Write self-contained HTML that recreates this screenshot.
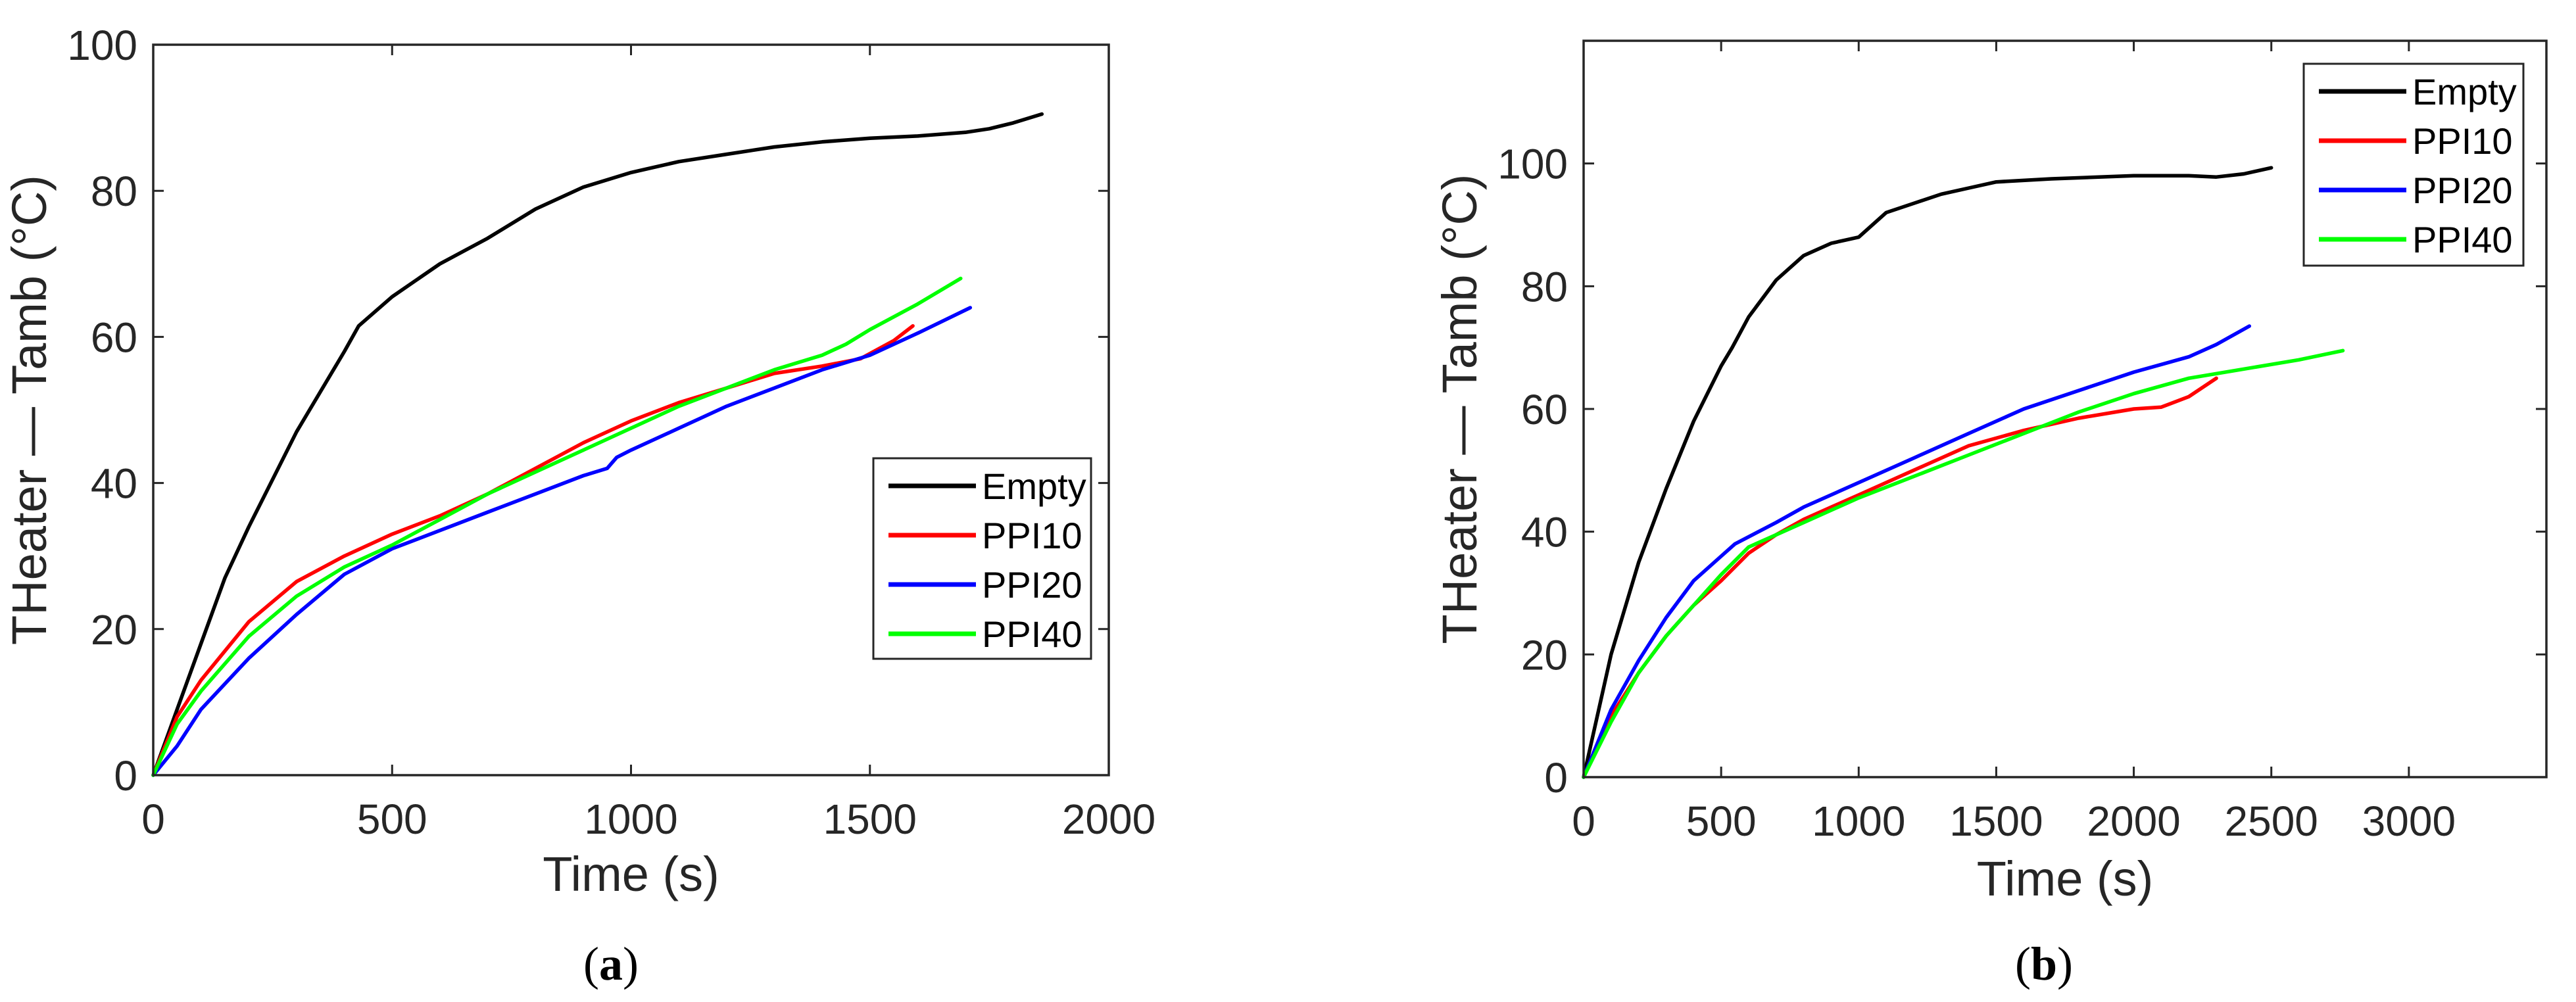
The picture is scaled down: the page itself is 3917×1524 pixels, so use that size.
<!DOCTYPE html>
<html><head><meta charset="utf-8"><style>
html,body{margin:0;padding:0;background:#fff;}
svg{display:block;font-family:"Liberation Sans",Arial,sans-serif;}
</style></head><body>
<svg id="fig" width="3917" height="1524" viewBox="0 0 3917 1524" xmlns="http://www.w3.org/2000/svg">
<rect x="0" y="0" width="3917" height="1524" fill="#fff"/>
<g id="chartA"></g>
<g id="chartB"></g>
<text x="929" y="1490" text-anchor="middle" font-family="Liberation Serif, serif" font-size="72" fill="#000">(<tspan font-weight="bold">a</tspan>)</text>
<text x="3108" y="1490" text-anchor="middle" font-family="Liberation Serif, serif" font-size="72" fill="#000">(<tspan font-weight="bold">b</tspan>)</text>
</svg>
<script>
const seriesNames = ["Empty","PPI10","PPI20","PPI40"];
const seriesColors = ["#000000","#ff0000","#0000ff","#00ff00"];
const yTicksA = [0,20,40,60,80,100];
const xTicksA = [0,500,1000,1500,2000];
const yTicksB = [0,20,40,60,80,100];
const xTicksB = [0,500,1000,1500,2000,2500,3000];
const emptyA = [[0,0],[50,9],[100,18],[150,27],[200,34],[300,47],[400,58],[430,61.5],[500,65.5],[600,70],[700,73.5],[800,77.5],[900,80.5],[1000,82.5],[1100,84],[1200,85],[1300,86],[1400,86.7],[1500,87.2],[1600,87.5],[1700,88],[1750,88.5],[1800,89.3],[1860,90.5]];
const ppi10A = [[0,0],[50,8],[100,13],[200,21],[300,26.5],[400,30],[500,33],[600,35.5],[700,38.5],[800,42],[900,45.5],[1000,48.5],[1100,51],[1200,53],[1300,55],[1400,56],[1480,57],[1550,59.5],[1590,61.5]];
const ppi20A = [[0,0],[50,4],[100,9],[200,16],[300,22],[400,27.5],[500,31],[600,33.5],[700,36],[800,38.5],[900,41],[950,42],[970,43.5],[1000,44.5],[1100,47.5],[1200,50.5],[1300,53],[1400,55.5],[1500,57.5],[1600,60.5],[1710,64]];
const ppi40A = [[0,0],[50,7],[100,11.5],[200,19],[300,24.5],[400,28.5],[500,31.5],[600,35],[700,38.5],[800,41.5],[900,44.5],[1000,47.5],[1100,50.5],[1200,53],[1300,55.5],[1400,57.5],[1450,59],[1500,61],[1600,64.5],[1690,68]];
const emptyB = [[0,0],[100,20],[200,35],[300,47],[400,58],[500,67],[540,70],[600,75],[700,81],[800,85],[900,87],[950,87.5],[1000,88],[1100,92],[1200,93.5],[1300,95],[1400,96],[1500,97],[1700,97.5],[2000,98],[2200,98],[2300,97.8],[2400,98.3],[2500,99.3]];
const ppi10B = [[0,0],[100,10],[200,17],[300,23],[400,28],[500,32],[600,36.5],[700,39.5],[800,42],[900,44],[1000,46],[1200,50],[1400,54],[1600,56.5],[1800,58.5],[2000,60],[2100,60.3],[2200,62],[2300,65]];
const ppi20B = [[0,0],[100,11],[200,19],[300,26],[400,32],[500,36],[550,38],[700,41.5],[800,44],[1000,48],[1200,52],[1400,56],[1600,60],[1800,63],[2000,66],[2200,68.5],[2300,70.5],[2420,73.5]];
const ppi40B = [[0,0],[100,9],[200,17],[300,23],[400,28],[500,33],[600,37.5],[800,41.5],[1000,45.5],[1200,49],[1400,52.5],[1600,56],[1800,59.5],[2000,62.5],[2200,65],[2400,66.5],[2600,68],[2760,69.5]];

const NS="http://www.w3.org/2000/svg";
function mk(parent,tag,attrs,txt){const e=document.createElementNS(NS,tag);for(const k in attrs)e.setAttribute(k,attrs[k]);if(txt!==undefined)e.textContent=txt;parent.appendChild(e);return e;}

function drawChart(g,cfg,data,xTicks,yTicks,tag){
  const sx=v=>cfg.x0+(v-cfg.xmin)/(cfg.xmax-cfg.xmin)*(cfg.x1-cfg.x0);
  const sy=v=>cfg.y0-(v-cfg.ymin)/(cfg.ymax-cfg.ymin)*(cfg.y0-cfg.y1);
  // ticks
  xTicks.forEach(t=>{
    const x=sx(t);
    const tk=mk(g,"path",{d:`M${x},${cfg.y0}V${cfg.y0-16}M${x},${cfg.y1}V${cfg.y1+16}`,stroke:"#262626","stroke-width":3});
    
    
    const lb=mk(g,"text",{x:x,y:cfg.y0+89,"text-anchor":"middle","font-size":64,fill:"#262626"},String(t));
    
    
  });
  yTicks.forEach(t=>{
    const y=sy(t);
    const tk=mk(g,"path",{d:`M${cfg.x0},${y}H${cfg.x0+16}M${cfg.x1},${y}H${cfg.x1-16}`,stroke:"#262626","stroke-width":3});
    
    
    const lb=mk(g,"text",{x:cfg.x0-24,y:y+23,"text-anchor":"end","font-size":64,fill:"#262626"},String(t));
    
    
  });
  // series
  data.forEach((s,i)=>{
    const d=s.map((p,j)=>(j?"L":"M")+sx(p[0]).toFixed(1)+","+sy(p[1]).toFixed(1)).join("");
    const p=mk(g,"path",{d:d,fill:"none",stroke:seriesColors[i],"stroke-width":5.5,"stroke-linejoin":"round","stroke-linecap":"round"});
    
    
  });
  // box
  const box=mk(g,"rect",{x:cfg.x0,y:cfg.y1,width:cfg.x1-cfg.x0,height:cfg.y0-cfg.y1,fill:"none",stroke:"#262626","stroke-width":3.5});
  
  
  // axis titles
  const xt=mk(g,"text",{x:(cfg.x0+cfg.x1)/2,y:cfg.xtY,"text-anchor":"middle","font-size":74,fill:"#262626"},"Time (s)");
  
  
  const yc=(cfg.y0+cfg.y1)/2;
  const yt=mk(g,"text",{x:0,y:0,"text-anchor":"middle","font-size":74,fill:"#262626",transform:`translate(${cfg.ytX},${yc}) rotate(-90)`},"THeater — Tamb (°C)");
  
  
  // legend
  const L=cfg.leg;
  const lg=mk(g,"g",{});
  
  
  mk(lg,"rect",{x:L.x,y:L.y,width:L.w,height:L.h,fill:"#fff",stroke:"#262626","stroke-width":3});
  seriesNames.forEach((n,i)=>{
    const ry=L.y+42+i*75;
    const e=mk(lg,"g",{});
    
    
    mk(e,"line",{x1:L.x+23,x2:L.x+156,y1:ry,y2:ry,stroke:seriesColors[i],"stroke-width":7});
    mk(e,"text",{x:L.x+165,y:ry+20,"font-size":56,fill:"#000"},n);
  });
}

drawChart(document.getElementById("chartA"),
  {x0:233,x1:1686,y0:1179,y1:68,xmin:0,xmax:2000,ymin:0,ymax:100,xtY:1355,ytX:70,
   leg:{x:1328,y:697,w:331,h:305}},
  [emptyA,ppi10A,ppi20A,ppi40A],xTicksA,yTicksA,"a");
drawChart(document.getElementById("chartB"),
  {x0:2408,x1:3872,y0:1182,y1:62,xmin:0,xmax:3500,ymin:0,ymax:120,xtY:1362,ytX:2245,
   leg:{x:3503,y:97,w:334,h:307}},
  [emptyB,ppi10B,ppi20B,ppi40B],xTicksB,yTicksB,"b");
</script>
</body></html>
